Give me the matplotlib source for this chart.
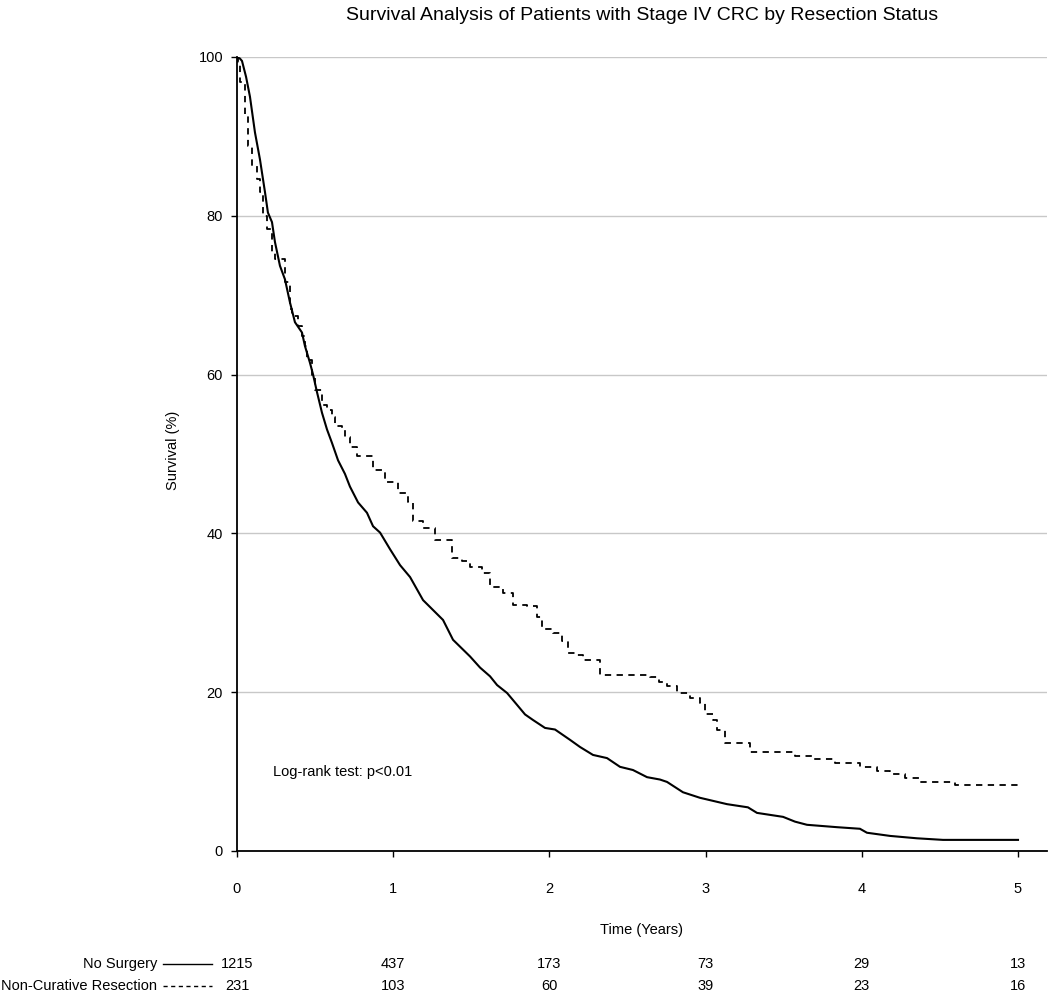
import matplotlib
matplotlib.use("Agg")
import matplotlib.pyplot as plt
import matplotlib.transforms as mtransforms
from matplotlib.lines import Line2D

plt.rcParams['font.family'] = ['Liberation Sans', 'DejaVu Sans']

# ---------------- data ----------------
title = "Survival Analysis of Patients with Stage IV CRC by Resection Status"
series_names = ["No Surgery", "Non-Curative Resection"]

# No Surgery (solid)
ns_time = [0.000, 0.019, 0.032, 0.058, 0.083, 0.115, 0.147, 0.179, 0.198, 0.224,
           0.243, 0.275, 0.307, 0.339, 0.371, 0.416, 0.435, 0.467, 0.487, 0.512,
           0.544, 0.576, 0.608, 0.647, 0.691, 0.723, 0.775, 0.832, 0.871, 0.916,
           0.980, 1.044, 1.108, 1.191, 1.319, 1.383, 1.492, 1.556, 1.620, 1.665,
           1.729, 1.793, 1.844, 1.895, 1.972, 2.036, 2.132, 2.196, 2.279, 2.369,
           2.452, 2.535, 2.625, 2.708, 2.753, 2.855, 2.964, 3.137, 3.271, 3.329,
           3.496, 3.572, 3.649, 3.841, 3.988, 4.033, 4.181, 4.353, 4.520, 5.000]
ns_surv = [100.0, 99.8, 99.5, 97.5, 95.0, 90.5, 87.1, 83.0, 80.4, 79.2,
           76.7, 73.7, 72.0, 69.1, 66.6, 65.3, 63.6, 61.5, 60.0, 57.8,
           55.2, 53.1, 51.4, 49.2, 47.5, 45.9, 43.9, 42.6, 40.9, 40.1,
           38.0, 36.0, 34.5, 31.6, 29.1, 26.6, 24.5, 23.1, 22.0, 20.9,
           19.9, 18.4, 17.2, 16.5, 15.5, 15.3, 14.0, 13.1, 12.1, 11.7,
           10.6, 10.2, 9.3, 9.0, 8.7, 7.4, 6.7, 5.9, 5.5, 4.8,
           4.3, 3.7, 3.3, 3.0, 2.8, 2.3, 1.9, 1.6, 1.4, 1.4]

# Non-Curative Resection (dashed, step function)
nc_time = [0.000, 0.006, 0.019, 0.051, 0.070, 0.096, 0.128, 0.147, 0.166, 0.192,
           0.224, 0.243, 0.307, 0.339, 0.352, 0.391, 0.416, 0.435, 0.448, 0.480,
           0.499, 0.544, 0.576, 0.608, 0.627, 0.672, 0.691, 0.723, 0.768, 0.871,
           0.948, 1.031, 1.095, 1.127, 1.191, 1.268, 1.376, 1.440, 1.492, 1.568,
           1.620, 1.703, 1.767, 1.857, 1.921, 1.953, 2.023, 2.081, 2.119, 2.164,
           2.215, 2.324, 2.644, 2.700, 2.753, 2.817, 2.900, 2.964, 2.996, 3.047,
           3.073, 3.124, 3.284, 3.572, 3.681, 3.828, 3.988, 4.097, 4.181, 4.277,
           4.373, 4.597, 5.000]
nc_surv = [100.0, 99.4, 96.8, 92.6, 88.8, 86.3, 84.6, 83.0, 80.0, 78.3,
           75.4, 74.5, 71.6, 68.2, 67.4, 66.1, 64.8, 63.6, 61.9, 59.8,
           58.1, 56.2, 55.6, 54.7, 53.5, 53.1, 52.2, 50.9, 49.7, 48.0,
           46.5, 45.1, 43.9, 41.5, 40.7, 39.2, 36.9, 36.5, 35.8, 35.0,
           33.3, 32.5, 31.0, 30.8, 29.5, 27.9, 27.5, 26.4, 25.0, 24.7,
           24.1, 22.2, 21.9, 21.3, 20.8, 19.9, 19.3, 18.7, 17.2, 16.5,
           15.3, 13.6, 12.5, 12.0, 11.6, 11.1, 10.6, 10.1, 9.7, 9.2,
           8.7, 8.3, 8.3]

x_ticks = [0, 1, 2, 3, 4, 5]
y_ticks = [0, 20, 40, 60, 80, 100]
risk_no_surgery = [1215, 437, 173, 73, 29, 13]
risk_noncurative = [231, 103, 60, 39, 23, 16]
annotation = "Log-rank test: p<0.01"

# ---------------- figure ----------------
W, H = 1050, 992
fig = plt.figure(figsize=(W / 100, H / 100), dpi=100)
left, right, top, bottom = 237, 1047, 57, 851
ax = fig.add_axes([left / W, 1 - bottom / H, (right - left) / W, (bottom - top) / H])

x_max = (right - left) / (1018 - 237) * 5
ax.set_xlim(0, x_max)
ax.set_ylim(0, 100)

ax.plot(ns_time, ns_surv, color='black', lw=1.5, solid_joinstyle='miter')
ax.plot(nc_time, nc_surv, color='black', lw=1.3, drawstyle='steps-post',
        linestyle=(0, (3.5, 3)))

ax.set_yticks(y_ticks)
ax.set_xticks(x_ticks)
ax.yaxis.grid(True, color='#c8c8c8', lw=1)
ax.set_axisbelow(True)
for s in ['top', 'right']:
    ax.spines[s].set_visible(False)
for s in ['left', 'bottom']:
    ax.spines[s].set_linewidth(1.3)
    ax.spines[s].set_color('black')
ax.tick_params(axis='both', direction='out', length=4, width=1, labelsize=10.5)
ax.tick_params(axis='y', pad=6)
ax.tick_params(axis='x', pad=18)

fig.text(642 / W, 1 - 16 / H, title, ha='center', va='center', fontsize=14)
fig.text(173 / W, 1 - 450 / H, "Survival (%)", ha='center', va='center',
         rotation=90, fontsize=10.5)
fig.text(642 / W, 1 - 930 / H, "Time (Years)", ha='center', va='center', fontsize=10.5)
fig.text(273 / W, 1 - 772 / H, annotation, ha='left', va='center', fontsize=10.5)

# risk table
trans = mtransforms.blended_transform_factory(ax.transData, fig.transFigure)
rows = [(risk_no_surgery, 964, '-'), (risk_noncurative, 986, (0, (3, 2.5)))]
for (vals, ypx, ls), name in zip(rows, series_names):
    yf = 1 - ypx / H
    fig.text(157 / W, yf, name, ha='right', va='center', fontsize=10.5)
    fig.add_artist(Line2D([163 / W, 212 / W], [yf, yf], transform=fig.transFigure,
                          color='black', lw=1, linestyle=ls))
    for t, v in zip(x_ticks, vals):
        ax.text(t, yf, str(v), transform=trans, ha='center', va='center',
                fontsize=10.5, clip_on=False)

fig.savefig("out.png", dpi=100)
